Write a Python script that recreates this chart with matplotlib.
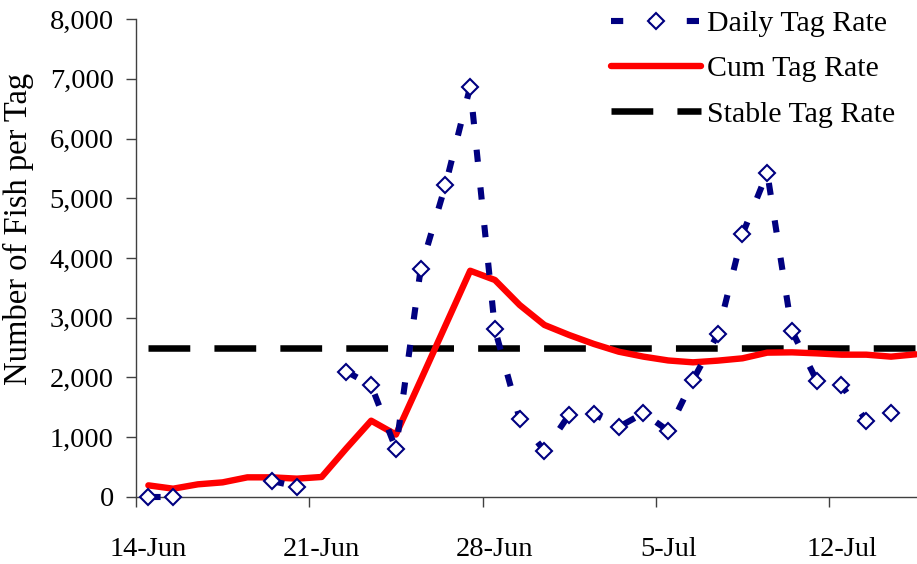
import numpy as np
import matplotlib.pyplot as plt
from matplotlib.ticker import FuncFormatter

# day index 0 = 14-Jun ... 31 = 15-Jul
days = np.arange(32)
tick_labels = ['14-Jun', '21-Jun', '28-Jun', '5-Jul', '12-Jul']
nan = np.nan
daily_rate = [0, 0, nan, nan, nan, 268, 172, nan, 2100, 1870,
              805, 3816, 5216, 6867, 2806, 1305, 770, 1377, 1384, 1170,
              1405, 1108, 1958, 2723, 4397, 5428, 2778, 1947, 1874, 1277,
              1411, nan]
cum_rate = [195, 139, 212, 245, 329, 329, 307, 335, 815, 1277,
            1045, 1954, 2870, 3787, 3632, 3213, 2879, 2711, 2561, 2432,
            2349, 2285, 2254, 2282, 2321, 2416, 2421, 2404, 2382, 2382,
            2349, 2388]
stable_rate = [2490] * 32

plt.rcParams['font.family'] = ['Liberation Serif', 'DejaVu Serif']

fig = plt.figure(figsize=(9.17, 5.64), dpi=100)
ax = fig.add_axes([0.1483, 0.1188, 0.8517, 0.8475])

ax.plot(days, daily_rate, color='#000080', lw=4.4, dashes=(2.0, 4.2),
        marker='D', ms=8.5, mfc='white', mec='#000080', mew=1.5,
        label='Daily Tag Rate', zorder=3, clip_on=False)
ax.plot(days, cum_rate, color='#ff0000', lw=4.6, solid_capstyle='round',
        label='Cum Tag Rate', zorder=2)
ax.plot(days, stable_rate, color='black', lw=4.7, dashes=(6.4, 3.7),
        label='Stable Tag Rate', zorder=1)

ax.set_xlim(-0.5, 31.05)
ax.set_ylim(0, 8000)
ax.set_yticks(np.arange(0, 8001, 1000))
ax.yaxis.set_major_formatter(FuncFormatter(lambda v, p: f'{int(v):,}'))
ax.set_xticks(np.arange(-0.5, 31, 7))
ax.set_xticklabels([])
ax.set_xticks(np.arange(0, 29, 7), minor=True)
ax.set_xticklabels(tick_labels, minor=True)
ax.tick_params(axis='x', which='major', length=7, width=1, color='#404040', direction='out')
ax.tick_params(axis='x', which='minor', length=0, pad=29, labelsize=20.5)
ax.tick_params(axis='y', length=7, width=1, color='#404040', direction='out',
               pad=9, labelsize=20.5)

for s in ['top', 'right']:
    ax.spines[s].set_visible(False)
for s in ['left', 'bottom']:
    ax.spines[s].set_color('#404040')
    ax.spines[s].set_linewidth(1)

ax.set_ylabel('Number of Fish per Tag', fontsize=23.5)
ax.yaxis.set_label_coords(-0.131, 0.561)

fig.legend(loc='upper right', bbox_to_anchor=(895 / 917, 0.982),
           bbox_transform=fig.transFigure, frameon=False, borderpad=0,
           borderaxespad=0, fontsize=21.5, handlelength=3.0,
           labelspacing=0.62, handletextpad=0.2)

fig.savefig('out.png', dpi=100)
